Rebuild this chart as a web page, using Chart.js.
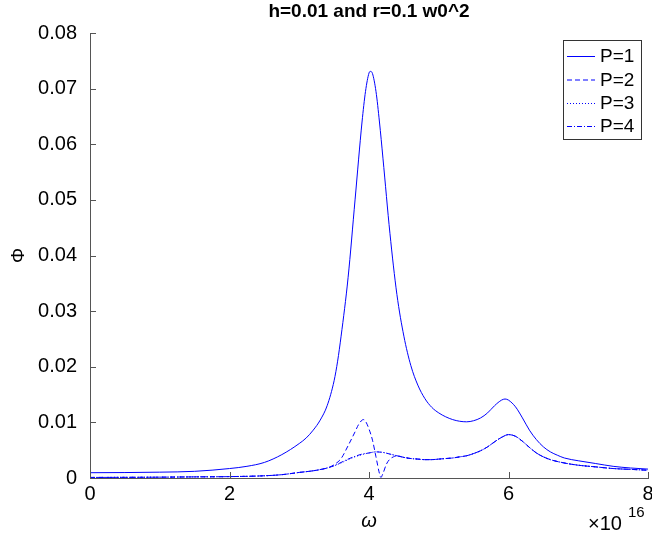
<!DOCTYPE html>
<html>
<head>
<meta charset="utf-8">
<script src="https://cdn.jsdelivr.net/npm/chart.js@4.4.1/dist/chart.umd.min.js"></script>
<style>
  html, body { margin: 0; padding: 0; background: #fff; }
  #wrap { width: 652px; height: 539px; }
</style>
</head>
<body>
<div id="wrap"><canvas id="phiChart" width="652" height="539"></canvas></div>
<script>
// omega values are in units of 1e16 (axis shows x10^16)
const omegaP1 = [0, 0.5, 1, 1.5, 2, 2.25, 2.5, 2.75, 3, 3.1, 3.2, 3.3, 3.4, 3.5, 3.55, 3.6, 3.7, 3.8, 3.9, 3.95, 4, 4.02, 4.05, 4.1, 4.15, 4.2, 4.3, 4.4, 4.5, 4.6, 4.7, 4.8, 4.9, 5, 5.1, 5.2, 5.3, 5.4, 5.5, 5.6, 5.7, 5.8, 5.9, 5.95, 6, 6.1, 6.2, 6.3, 6.4, 6.5, 6.6, 6.7, 6.8, 7, 7.25, 7.5, 7.75, 8];
const phiP1 = [0.00095, 0.00098, 0.00105, 0.0012, 0.0017, 0.0021, 0.0028, 0.0042, 0.0062, 0.0072, 0.0086, 0.0104, 0.013, 0.0175, 0.021, 0.0255, 0.036, 0.05, 0.064, 0.0695, 0.0728, 0.0731, 0.0727, 0.0695, 0.064, 0.0575, 0.044, 0.033, 0.0255, 0.0202, 0.0167, 0.0143, 0.0127, 0.0117, 0.011, 0.0105, 0.0102, 0.0101, 0.0103, 0.0108, 0.0117, 0.013, 0.014, 0.0142, 0.014, 0.0128, 0.0108, 0.0086, 0.0069, 0.0056, 0.0047, 0.0041, 0.0036, 0.0031, 0.0026, 0.0021, 0.0018, 0.0016];

const omegaP2 = [0, 0.5, 1, 1.5, 2, 2.5, 2.75, 3, 3.2, 3.4, 3.5, 3.6, 3.7, 3.8, 3.85, 3.9, 3.92, 3.95, 4, 4.05, 4.1, 4.15, 4.17, 4.2, 4.25, 4.3, 4.35, 4.4, 4.5, 4.6, 4.7, 4.8, 4.9, 5, 5.1, 5.2, 5.3, 5.4, 5.5, 5.6, 5.7, 5.8, 5.9, 6, 6.1, 6.2, 6.3, 6.4, 6.5, 6.6, 6.8, 7, 7.25, 7.5, 7.75, 8];
const phiP2 = [0.0001, 0.00012, 0.00015, 0.0002, 0.00025, 0.0004, 0.0006, 0.001, 0.0013, 0.0018, 0.0024, 0.0035, 0.0058, 0.0083, 0.0096, 0.0104, 0.0105, 0.0102, 0.0088, 0.0068, 0.0038, 0.0008, 0.0001, 0.0008, 0.0025, 0.0034, 0.0038, 0.004, 0.0037, 0.0035, 0.0034, 0.0033, 0.0033, 0.0034, 0.0035, 0.0036, 0.0038, 0.004, 0.0044, 0.0049, 0.0056, 0.0065, 0.0073, 0.0078, 0.0075, 0.0066, 0.0055, 0.0045, 0.0038, 0.0033, 0.0027, 0.0023, 0.002, 0.0017, 0.00155, 0.0014];

const omegaLow = [0, 0.5, 1, 1.5, 2, 2.5, 2.75, 3, 3.2, 3.4, 3.5, 3.6, 3.7, 3.8, 3.9, 4, 4.1, 4.2, 4.3, 4.4, 4.5, 4.6, 4.7, 4.8, 4.9, 5, 5.1, 5.2, 5.3, 5.4, 5.5, 5.6, 5.7, 5.8, 5.9, 6, 6.1, 6.2, 6.3, 6.4, 6.5, 6.6, 6.8, 7, 7.25, 7.5, 7.75, 8];
const phiP3 = [0.0001, 0.00012, 0.00015, 0.0002, 0.00025, 0.0004, 0.0006, 0.001, 0.0013, 0.0018, 0.0022, 0.0027, 0.0033, 0.0038, 0.0042, 0.0045, 0.0047, 0.0046, 0.0043, 0.004, 0.0037, 0.0035, 0.0034, 0.0033, 0.0033, 0.0034, 0.0035, 0.0036, 0.0038, 0.004, 0.0044, 0.0049, 0.0056, 0.0065, 0.0073, 0.0078, 0.0075, 0.0066, 0.0055, 0.0045, 0.0038, 0.0033, 0.0027, 0.0023, 0.002, 0.0017, 0.00155, 0.0014];
const phiP4 = [0.0001, 0.00012, 0.00015, 0.0002, 0.00025, 0.0004, 0.0006, 0.001, 0.0013, 0.0018, 0.0022, 0.0028, 0.0034, 0.0039, 0.0043, 0.0045, 0.0047, 0.0046, 0.0043, 0.004, 0.0037, 0.0035, 0.0034, 0.0033, 0.0033, 0.0034, 0.0035, 0.0036, 0.0038, 0.004, 0.0044, 0.0049, 0.0056, 0.0065, 0.0073, 0.0078, 0.0075, 0.0066, 0.0055, 0.0045, 0.0038, 0.0033, 0.0027, 0.0023, 0.002, 0.0017, 0.00155, 0.0014];

const seriesNames = ['P=1', 'P=2', 'P=3', 'P=4'];
const dashes = [[], [5, 3], [1, 2], [5, 2, 1, 2]];
const xTicks = [0, 2, 4, 6, 8];

const blue = 'rgb(0, 0, 255)';
const axisGrey = '#555';
const font = '"Liberation Sans", Arial, sans-serif';

function pairs(xs, ys) {
  return xs.map((v, i) => ({ x: v, y: ys[i] }));
}

const decor = {
  id: 'decor',
  afterDraw(chart) {
    const ctx = chart.ctx;
    const a = chart.chartArea;
    const xs = chart.scales.x, ys = chart.scales.y;
    ctx.save();

    // inward ticks
    ctx.strokeStyle = axisGrey;
    ctx.lineWidth = 1;
    ctx.beginPath();
    xTicks.forEach(v => {
      const px = Math.round(xs.getPixelForValue(v)) + 0.5;
      ctx.moveTo(px, a.bottom);
      ctx.lineTo(px, a.bottom - 6);
    });
    ys.ticks.forEach(t => {
      const py = Math.round(ys.getPixelForValue(t.value)) + 0.5;
      ctx.moveTo(a.left, py);
      ctx.lineTo(a.left + 6, py);
    });
    ctx.stroke();

    ctx.fillStyle = '#000';
    // title
    ctx.font = 'bold 19px ' + font;
    ctx.textAlign = 'center';
    ctx.textBaseline = 'middle';
    ctx.fillText('h=0.01 and r=0.1 w0^2', (a.left + a.right) / 2, 12);

    // axis titles
    ctx.font = 'italic 20px ' + font;
    ctx.fillText('ω', (a.left + a.right) / 2, 521);
    ctx.save();
    ctx.translate(19, (a.top + a.bottom) / 2);
    ctx.rotate(-Math.PI / 2);
    ctx.font = '19px ' + font;
    ctx.fillText('Φ', 0, 0);
    ctx.restore();

    // exponent
    ctx.textAlign = 'left';
    ctx.font = '20px ' + font;
    ctx.fillText('×10', 588, 524);
    ctx.font = '15px ' + font;
    ctx.fillText('16', 628, 513);

    // legend
    const lx = 563.5, ly = 40.5, lw = 78, lh = 99;
    ctx.fillStyle = '#fff';
    ctx.fillRect(lx, ly, lw, lh);
    ctx.strokeStyle = '#333';
    ctx.lineWidth = 1;
    ctx.strokeRect(lx, ly, lw, lh);
    const rows = [56, 79.5, 103, 126];
    ctx.font = '19px ' + font;
    ctx.textBaseline = 'middle';
    seriesNames.forEach((name, i) => {
      ctx.strokeStyle = blue;
      ctx.setLineDash(dashes[i]);
      ctx.beginPath();
      ctx.moveTo(567, rows[i] + 0.5);
      ctx.lineTo(595, rows[i] + 0.5);
      ctx.stroke();
      ctx.setLineDash([]);
      ctx.fillStyle = '#000';
      ctx.fillText(name, 600, rows[i] + 1);
    });
    ctx.restore();
  }
};

const datasets = [
  pairs(omegaP1, phiP1),
  pairs(omegaP2, phiP2),
  pairs(omegaLow, phiP3),
  pairs(omegaLow, phiP4)
].map((d, i) => ({
  label: seriesNames[i],
  data: d,
  borderColor: blue,
  borderWidth: 1,
  borderDash: dashes[i],
  pointRadius: 0,
  fill: false,
  cubicInterpolationMode: 'monotone'
}));

const config = {
  type: 'line',
  data: { datasets: datasets },
  options: {
    responsive: false,
    animation: false,
    events: [],
    layout: { padding: { top: 33, right: 4, left: 0, bottom: 0 } },
    plugins: { legend: { display: false }, title: { display: false }, tooltip: { enabled: false } },
    scales: {
      x: {
        type: 'linear',
        min: 0, max: 8,
        afterFit: s => { s.height = 61; s.paddingLeft = 0; s.paddingRight = 0; },
        afterBuildTicks: s => { s.ticks = xTicks.map(v => ({ value: v })); },
        grid: { display: false, drawTicks: false },
        border: { display: true, color: axisGrey, width: 1 },
        ticks: { padding: 4, maxRotation: 0, color: '#000', font: { family: font, size: 20 } }
      },
      y: {
        min: 0, max: 0.08,
        afterFit: s => { s.width = 90; },
        grid: { display: false, drawTicks: false },
        border: { display: true, color: axisGrey, width: 1 },
        ticks: {
          stepSize: 0.01, padding: 13, color: '#000',
          font: { family: font, size: 20 },
          callback: v => Math.abs(v) < 1e-9 ? '0' : Number(v.toFixed(2)).toString()
        }
      }
    }
  },
  plugins: [decor]
};

const phiChart = new Chart(document.getElementById('phiChart'), config);
</script>
</body>
</html>
